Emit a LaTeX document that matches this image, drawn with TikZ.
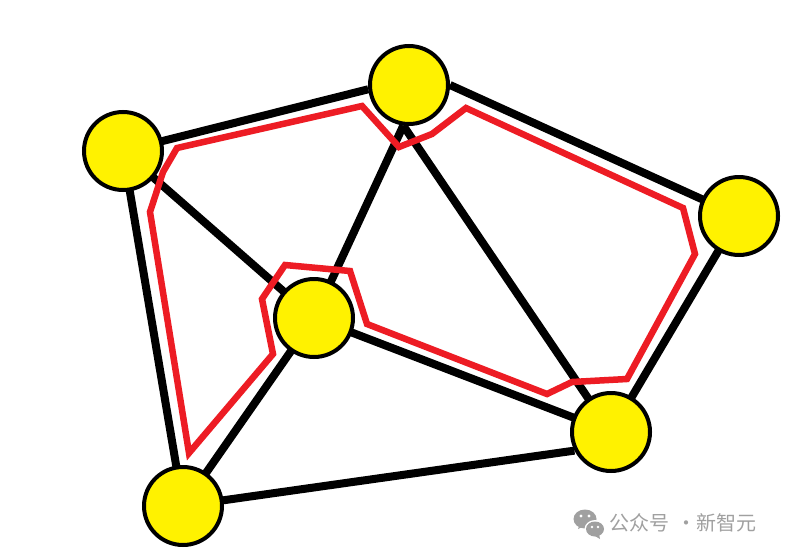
\documentclass[tikz,border=0pt]{standalone}
\usepackage{fontspec}
\newfontfamily\cjk{Noto Sans CJK SC}
\definecolor{nodeyellow}{HTML}{FFF200}
\definecolor{pathred}{HTML}{ED1C24}
\definecolor{wmgray}{HTML}{A0A0A0}
\begin{document}
\begin{tikzpicture}[x=1pt,y=-1pt,
  vertex/.style={circle,draw=black,line width=4pt,fill=nodeyellow,minimum size=78pt,inner sep=0pt},
  edge/.style={line width=8pt,draw=black},
  route/.style={line width=6.5pt,draw=pathred,line join=miter},
  wmtext/.style={text=wmgray,font=\cjk\fontsize{20}{20}\selectfont,inner sep=0pt}]
\useasboundingbox[fill=white] (0,0) rectangle (786,554);
% node positions
\coordinate (pa) at (123,151);
\coordinate (pb) at (409,85);
\coordinate (pc) at (739,216);
\coordinate (pd) at (314,318);
\coordinate (pe) at (611,432);
\coordinate (pf) at (183,506);
% invisible placeholders to get anchors before drawing
\node[vertex,draw=none,fill=none] (A) at (pa) {};
\node[vertex,draw=none,fill=none] (B) at (pb) {};
\node[vertex,draw=none,fill=none] (C) at (pc) {};
\node[vertex,draw=none,fill=none] (D) at (pd) {};
\node[vertex,draw=none,fill=none] (E) at (pe) {};
\node[vertex,draw=none,fill=none] (F) at (pf) {};
% edges
\draw[edge] (A.center) -- (B.186);
\draw[edge] (B.0) -- (C.center);
\draw[edge] (A.center) -- (D.center);
\draw[edge] (B.262) -- (D.center);
\draw[edge] (B.262) -- (E.center);
\draw[edge] (C.center) -- (E.center);
\draw[edge] (D.center) -- (E.center);
\draw[edge] (D.center) -- (F.center);
\draw[edge] (A.center) -- (F.center);
\draw[edge] (F.center) -- (E.207);
% red route
\draw[route] (177,148) -- (362,106) -- (399,147) -- (432,134) -- (466,108)
  -- (683,208) -- (695,254) -- (627,379) -- (572,382) -- (547,394)
  -- (367,324) -- (350,271) -- (285,265) -- (262,299) -- (273,354)
  -- (189,453) -- (150,212) -- (163,172) -- cycle;
% visible vertices
\node[vertex] (A1) at (pa) {};
\node[vertex] (B1) at (pb) {};
\node[vertex] (C1) at (pc) {};
\node[vertex] (D1) at (pd) {};
\node[vertex] (E1) at (pe) {};
\node[vertex] (F1) at (pf) {};
% watermark
\fill[wmgray] (585,519) ellipse (11.5 and 9.5);
\fill[wmgray] (578,529) -- (580,523) -- (584,526) -- cycle;
\fill[white] (595,529) ellipse (10.5 and 9);
\fill[wmgray] (595,529) ellipse (9 and 7.5);
\fill[wmgray] (600,539) -- (599,534) -- (595,536) -- cycle;
\fill[white] (581,516) circle (1.6) (589,516) circle (1.6);
\fill[white] (592,527) circle (1.3) (598,527) circle (1.3);
\node[wmtext,anchor=base west] (wm1) at (609,530) {公众号};
\node[wmtext,anchor=base] (wm2) at (686,530) {·};
\node[wmtext,anchor=base west] (wm3) at (696,530) {新智元};
\end{tikzpicture}
\end{document}
